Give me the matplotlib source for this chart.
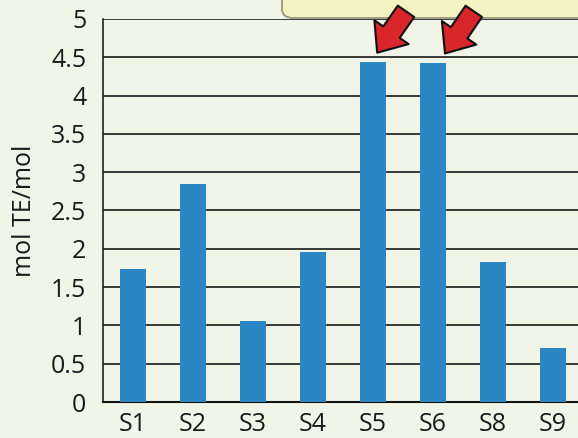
import numpy as np
import matplotlib.pyplot as plt
from matplotlib.patches import FancyBboxPatch

# samples and their values (mol TE/mol)
samples = ['S1', 'S2', 'S3', 'S4', 'S5', 'S6', 'S8', 'S9']
values = [1.74, 2.85, 1.06, 1.96, 4.44, 4.43, 1.83, 0.70]
yticks = [0, 0.5, 1, 1.5, 2, 2.5, 3, 3.5, 4, 4.5, 5]
ytick_labels = ['0', '0.5', '1', '1.5', '2', '2.5', '3', '3.5', '4', '4.5', '5']
# highlighted samples (arrows)
highlight = [4, 5]

plt.rcParams['font.family'] = ['Open Sans', 'DejaVu Sans']

bg = '#f0f5e8'
fig = plt.figure(figsize=(5.78, 4.38), dpi=100, facecolor=bg)
W, H = 578, 438
ax = fig.add_axes([103 / W, (H - 402) / H, 480 / W, 383 / H])
ax.set_facecolor(bg)

x = np.arange(len(samples))
ax.bar(x, values, width=0.42, color='#2a87c4', zorder=3)

ax.set_xlim(-0.5, len(samples) - 0.5)
ax.set_ylim(0, 5)
ax.set_yticks(yticks)
ax.set_yticklabels(ytick_labels)
ax.set_xticks(x)
ax.set_xticklabels(samples)
ax.tick_params(axis='both', length=0, labelsize=18, colors='#1a1a1a')
ax.tick_params(axis='y', pad=12)
ax.tick_params(axis='x', pad=7)
ax.yaxis.grid(True, color='#1a1a1a', linewidth=1.2, zorder=0)
ax.set_axisbelow(True)
for s in ['top', 'right']:
    ax.spines[s].set_visible(False)
ax.spines['left'].set_color('#222222')
ax.spines['bottom'].set_color('#111111')
ax.spines['left'].set_linewidth(1.2)
ax.spines['bottom'].set_linewidth(1.5)
ax.set_ylabel('mol TE/mol', fontsize=18, labelpad=10, color='#1a1a1a')

# yellow callout box cut off at the top (behind the arrows)
box = FancyBboxPatch((282 / W, 1 - 18 / H), 320 / W, 60 / H,
                     boxstyle='round,pad=0,rounding_size=0.02',
                     transform=fig.transFigure, facecolor='#f4f2c2',
                     edgecolor='#8f8f78', linewidth=1.2, zorder=-1)
fig.patches.append(box)

# red arrows pointing at the highest bars
for i in highlight:
    tip = (i + 0.07 + 0.13 * (i - 4), values[i] + 0.12)
    tail = (i + 0.55 + 0.13 * (i - 4), 5.1)
    ax.annotate('', xy=tip, xytext=tail, annotation_clip=False,
                arrowprops=dict(arrowstyle='simple,head_length=0.75,head_width=1.25,tail_width=0.6',
                                mutation_scale=24, fc='#d9262b', ec='#111111', lw=1.5,
                                shrinkA=0, shrinkB=0),
                zorder=6)

fig.savefig('out.png', dpi=100, facecolor=bg)
